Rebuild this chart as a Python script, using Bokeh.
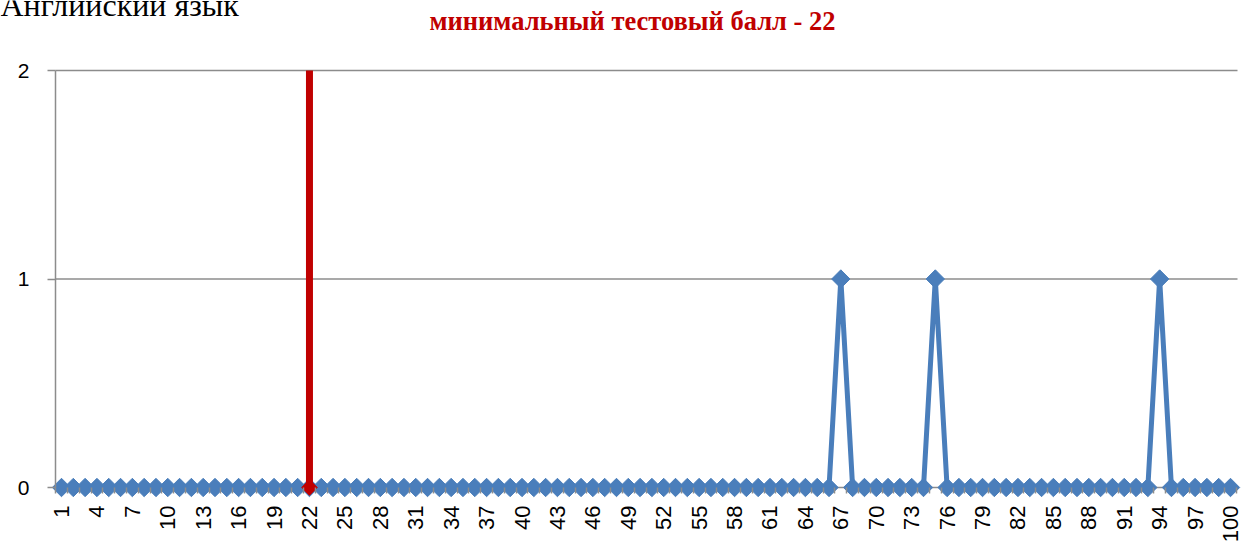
from math import pi
from bokeh.plotting import figure
from bokeh.models import Range1d, FixedTicker, Label
from bokeh.embed import file_html
from bokeh.resources import INLINE

# ---- data ----
scores = list(range(1, 101))
counts = [0, 0, 0, 0, 0, 0, 0, 0, 0, 0,
          0, 0, 0, 0, 0, 0, 0, 0, 0, 0,
          0, 0, 0, 0, 0, 0, 0, 0, 0, 0,
          0, 0, 0, 0, 0, 0, 0, 0, 0, 0,
          0, 0, 0, 0, 0, 0, 0, 0, 0, 0,
          0, 0, 0, 0, 0, 0, 0, 0, 0, 0,
          0, 0, 0, 0, 0, 0, 1, 0, 0, 0,
          0, 0, 0, 0, 1, 0, 0, 0, 0, 0,
          0, 0, 0, 0, 0, 0, 0, 0, 0, 0,
          0, 0, 0, 1, 0, 0, 0, 0, 0, 0]
x_tick_labels = [1, 4, 7, 10, 13, 16, 19, 22, 25, 28, 31, 34, 37, 40, 43, 46, 49,
                 52, 55, 58, 61, 64, 67, 70, 73, 76, 79, 82, 85, 88, 91, 94, 97, 100]
y_ticks = [0, 1, 2]
min_score_x = [22, 22]
min_score_y = [2, 0]
title_text = "Английский язык"
subtitle_text = "минимальный тестовый балл - 22"

BLUE = "#4a7ebb"
RED = "#c00000"
GRAY = "#8c8c8c"

W, H = 1242, 542
# plot area (pixels): left 55, right 1237, top 70, baseline 487; category 1 at 61, 100 at 1230
px_per_cat = (1230 - 61) / 99
px_per_unit = (487 - 70) / 2
x_start = 1 - 61 / px_per_cat
x_end = 100 + (W - 1230) / px_per_cat
y_end = 2 + 70 / px_per_unit
y_start = -(H - 487) / px_per_unit
area_left = 1 - (61 - 55) / px_per_cat
area_right = 100 + (1237 - 1230) / px_per_cat

p = figure(width=W, height=H, output_backend="svg", toolbar_location=None, title=None,
           x_range=Range1d(x_start, x_end), y_range=Range1d(y_start, y_end),
           min_border=0, min_border_left=0, min_border_right=0,
           min_border_top=0, min_border_bottom=0)
p.styles = {"margin-top": "0px", "margin-left": "0px",
            "margin-bottom": "0px", "margin-right": "0px"}
p.outline_line_color = None
p.background_fill_color = "white"
p.border_fill_color = "white"

# horizontal gridlines limited to the plot area
p.xgrid.visible = False
p.ygrid.visible = False
p.segment(x0=[area_left] * len(y_ticks), y0=y_ticks,
          x1=[area_right] * len(y_ticks), y1=y_ticks,
          line_color=GRAY, line_width=1.5)

# x axis (fixed at the baseline)
p.xaxis.fixed_location = 0
p.xaxis.ticker = FixedTicker(ticks=x_tick_labels, minor_ticks=[s + 0.5 for s in [0] + scores])
p.xaxis.major_label_orientation = pi / 2
p.xaxis.axis_line_color = None
p.xaxis.major_tick_line_color = None
p.xaxis.major_tick_out = 0
p.xaxis.major_tick_in = 0
p.xaxis.minor_tick_line_color = GRAY
p.xaxis.minor_tick_line_width = 1.5
p.xaxis.minor_tick_out = 6
p.xaxis.minor_tick_in = 0
p.xaxis.major_label_standoff = 12
p.xaxis.major_label_text_font = "Liberation Sans"
p.xaxis.major_label_text_font_size = "22px"
p.xaxis.major_label_text_color = "black"

# y axis (fixed at the left edge of the plot area)
p.yaxis.fixed_location = area_left
p.yaxis.ticker = FixedTicker(ticks=y_ticks)
p.yaxis.bounds = (0, 2)
p.yaxis.axis_line_color = GRAY
p.yaxis.axis_line_width = 1.5
p.yaxis.major_tick_line_color = GRAY
p.yaxis.major_tick_line_width = 1.5
p.yaxis.major_tick_out = 8
p.yaxis.major_tick_in = 0
p.yaxis.minor_tick_line_color = None
p.yaxis.major_label_standoff = 18
p.yaxis.major_label_text_font = "Liberation Sans"
p.yaxis.major_label_text_font_size = "21px"
p.yaxis.major_label_text_color = "black"

# series
p.line(scores, counts, line_color=BLUE, line_width=5)
p.scatter(scores, counts, marker="square", angle=pi / 4, size=13,
          fill_color=BLUE, line_color=BLUE)

# minimum score line
p.line(min_score_x, min_score_y, line_color=RED, line_width=7)
p.scatter(min_score_x[1:], min_score_y[1:], marker="square", angle=pi / 4, size=11,
          fill_color=RED, line_color=RED)

# titles
p.add_layout(Label(x=0, y=H - 4, x_units="screen", y_units="screen", text=title_text,
                   text_font="Liberation Serif", text_font_size="32px",
                   text_color="black", text_baseline="alphabetic", text_align="left"))
p.add_layout(Label(x=632, y=H - 20, x_units="screen", y_units="screen", text=subtitle_text,
                   text_font="Liberation Serif", text_font_size="26.5px", text_font_style="bold",
                   text_color=RED, text_baseline="alphabetic", text_align="center"))

open("out.html", "w").write(file_html(p, INLINE))
